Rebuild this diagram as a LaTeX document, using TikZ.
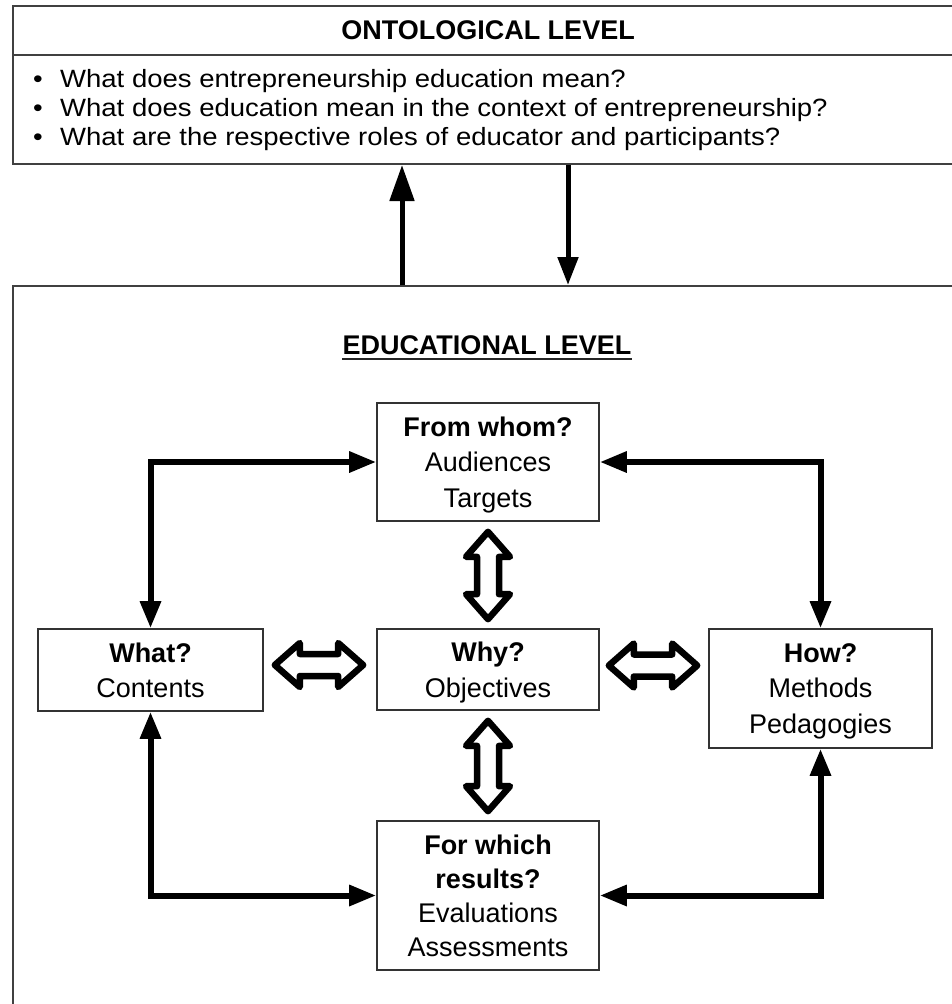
\documentclass[tikz,border=0pt]{standalone}
\usepackage{fontspec}
\setmainfont{Liberation Sans}
\newfontfamily\questionfont[FakeStretch=1.1]{Liberation Sans}
\usetikzlibrary{arrows.meta,calc}

% hollow two-headed arrow, vertical: #1 upper tip, #2 lower tip
\newcommand\twinV[2]{%
  \draw[hollow] let \p1=#1, \p2=#2 in
    (\x1,\y1) -- ++(22pt,-25pt) -- ++(-11pt,0pt) -- (\x1+11pt,\y2+25pt)
    -- ++(11pt,0pt) -- (\x1,\y2) -- ++(-22pt,25pt) -- ++(11pt,0pt)
    -- (\x1-11pt,\y1-25pt) -- ++(-11pt,0pt) -- cycle;}
% hollow two-headed arrow, horizontal: #1 left tip, #2 right tip
\newcommand\twinH[2]{%
  \draw[hollow] let \p1=#1, \p2=#2 in
    (\x1,\y1) -- ++(25pt,22pt) -- ++(0pt,-11pt) -- (\x2-25pt,\y1+11pt)
    -- ++(0pt,11pt) -- (\x2,\y1) -- ++(-25pt,-22pt) -- ++(0pt,11pt)
    -- (\x1+25pt,\y1-11pt) -- ++(0pt,-11pt) -- cycle;}

\begin{document}
\begin{tikzpicture}[x=1pt,y=-1pt,
  panel/.style={draw=black!75, line width=2pt, anchor=north west, inner sep=0pt},
  qbox/.style={draw=black!80, line width=1.6pt, fill=white, align=center,
    inner sep=0pt, text depth=0pt, font=\fontsize{27}{35.5}\selectfont},
  heading/.style={font=\bfseries\fontsize{27}{32}\selectfont, inner sep=0pt},
  question/.style={anchor=base west, inner sep=0pt, font=\questionfont\fontsize{25}{29}\selectfont},
  shade/.style={preaction={draw=black!30, transform canvas={shift={(1.5pt,-1.5pt)}}}},
  link/.style={line width=6pt, black, shade,
    {Triangle[length=27pt,width=20pt]}-{Triangle[length=27pt,width=20pt]}},
  hollow/.style={draw=black, line width=6.5pt, fill=white, line join=round, shade},
]
\useasboundingbox (0,0) rectangle (952,1004);
\clip (0,0) rectangle (952,1004);

% ontological level panel
\node[panel, minimum width=960pt, minimum height=158pt] (onto) at (12,5) {};
\coordinate (sepy) at (0,55);
\draw[draw=black!75, line width=2pt] (onto.west |- sepy) -- (onto.east |- sepy);
\node[heading] (ontotitle) at (488,30) {ONTOLOGICAL LEVEL};
\node[question] (q1) at (33,87)  {\makebox[27pt][l]{•}What does entrepreneurship education mean?};
\node[question] (q2) at (33,116) {\makebox[27pt][l]{•}What does education mean in the context of entrepreneurship?};
\node[question] (q3) at (33,145) {\makebox[27pt][l]{•}What are the respective roles of educator and participants?};

% educational level panel
\node[panel, minimum width=960pt, minimum height=760pt] (edu) at (12,285) {};
\node[heading] (edutitle) at (487,345) {EDUCATIONAL LEVEL};
\draw[black!85, line width=2pt] ($(edutitle.base west)+(0,5)$) -- ($(edutitle.base east)+(0,5)$);

% links between the two levels
\coordinate (upx) at (402,0);
\coordinate (downx) at (568,0);
\draw[line width=5pt, -{Triangle[length=36pt,width=24pt]}] (edu.north -| upx) -- (onto.south -| upx);
\draw[line width=5pt, -{Triangle[length=28pt,width=20pt]}] (onto.south -| downx) -- (edu.north -| downx);

% question boxes
\node[qbox, minimum width=222pt, minimum height=118pt] (fw) at (488,462)
  {\textbf{From whom?}\\Audiences\\Targets};
\node[qbox, minimum width=222pt, minimum height=81pt] (why) at (488,669.5)
  {\textbf{Why?}\\Objectives};
\node[qbox, minimum width=225pt, minimum height=82pt] (what) at (150.5,670)
  {\textbf{What?}\\Contents};
\node[qbox, minimum width=223pt, minimum height=119pt] (how) at (820.5,688.5)
  {\textbf{How?}\\Methods\\Pedagogies};
\node[qbox, minimum width=222pt, minimum height=149pt, font=\fontsize{27}{34}\selectfont] (res) at (488,895.5)
  {\textbf{For which}\\\textbf{results?}\\Evaluations\\Assessments};

% outer loop of links
\draw[link] (what.north) |- (fw.west);
\draw[link] (fw.east) -| (how.north);
\draw[link] (what.south) |- (res.west);
\draw[link] (res.east) -| (how.south);

% hollow links around the objectives
\twinV{($(fw.south)+(0,10)$)}{($(why.north)+(0,-9)$)}
\twinV{($(why.south)+(0,10)$)}{($(res.north)+(0,-9)$)}
\twinH{($(what.east)+(11,-5)$)}{($(why.west)+(-13,-5)$)}
\twinH{($(why.east)+(9,-4)$)}{($(how.west)+(-11,-4)$)}
\end{tikzpicture}
\end{document}
